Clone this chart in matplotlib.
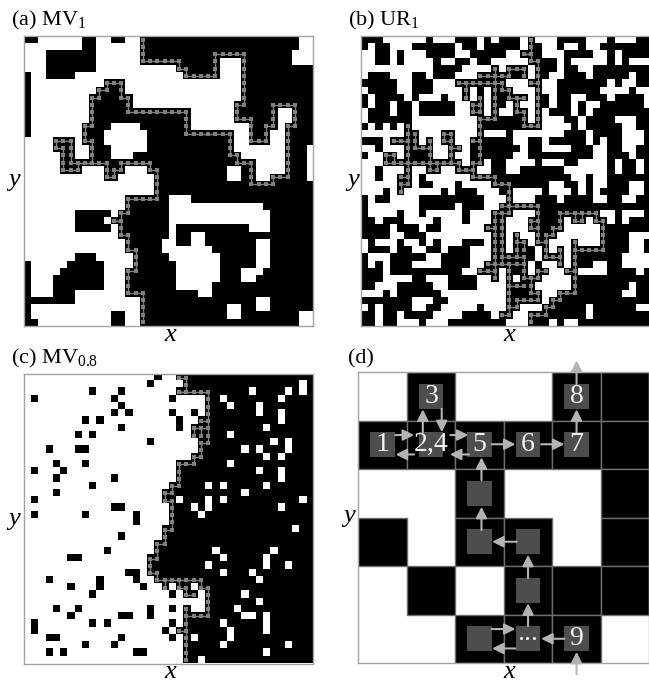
import numpy as np
import matplotlib
matplotlib.use("Agg")
import matplotlib.pyplot as plt
from matplotlib.patches import Rectangle

plt.rcParams['font.family'] = ['Liberation Serif', 'DejaVu Serif']
plt.rcParams['mathtext.fontset'] = 'custom'
plt.rcParams['mathtext.rm'] = 'Liberation Serif'
plt.rcParams['mathtext.it'] = 'Liberation Serif:italic'

N = 40

# black runs per row (first col, last col)
runs_a = [
    [(0,1),(8,9),(12,13),(16,37)], [(8,9),(16,37)], [(3,9),(16,36)], [(3,9),(16,26),(30,36)],
    [(3,9),(21,26),(30,39)], [(0,0),(3,6),(22,26),(30,39)], [(0,0),(11,13),(30,39)], [(0,0),(10,13),(30,39)],
    [(0,0),(9,14),(30,39)], [(0,0),(9,14),(29,39)], [(0,0),(9,22),(29,34),(37,39)], [(0,0),(9,22),(29,34),(37,39)],
    [(0,0),(8,11),(16,22),(31,34),(36,39)], [(0,0),(8,10),(17,28),(31,33),(36,39)], [(4,6),(8,10),(17,28),(31,33),(36,39)],
    [(4,6),(9,11),(17,28),(36,38)], [(5,6),(9,11),(15,29),(36,38)], [(5,31),(36,38)], [(5,7),(11,13),(17,27),(30,31),(36,38)],
    [(11,12),(18,27),(30,31),(34,38)], [(18,39)], [(18,39)], [(14,19),(23,39)], [(14,19),(33,39)],
    [(7,11),(13,19),(34,39)], [(7,10),(12,19),(34,39)], [(7,11),(13,19),(21,30),(34,39)], [(13,19),(21,22),(25,39)],
    [(14,18),(21,22),(25,31),(34,39)], [(14,18),(26,31),(34,39)], [(7,9),(15,19),(27,31),(34,39)],
    [(0,0),(6,10),(15,20),(27,31),(34,39)], [(0,0),(5,10),(14,20),(27,29),(33,39)], [(0,0),(4,10),(14,20),(27,29),(32,39)],
    [(0,0),(4,10),(14,20),(26,39)], [(0,0),(4,6),(14,23),(26,39)], [(0,6),(16,31),(34,39)], [(0,0),(16,27),(30,31),(34,39)],
    [(0,0),(12,13),(16,27),(30,37)], [(0,1),(12,13),(16,37)],
]
runs_b = [
    [(0,2),(9,9),(13,15),(17,17),(19,21),(23,23),(27,30),(34,34),(38,39)],
    [(0,0),(2,3),(7,12),(14,15),(17,21),(23,24),(27,27),(30,30),(33,39)],
    [(2,3),(5,5),(9,12),(15,19),(22,24),(28,31),(34,34),(36,39)],
    [(2,3),(5,5),(10,10),(13,14),(16,17),(23,26),(28,28),(34,34),(36,36)],
    [(10,13),(18,18),(20,22),(24,26),(28,29),(32,39)],
    [(1,3),(7,8),(10,12),(16,21),(22,22),(24,25),(28,30),(32,36),(38,39)],
    [(0,4),(7,9),(13,19),(23,24),(27,33),(35,35),(38,39)],
    [(1,4),(7,9),(14,14),(16,16),(18,20),(24,24),(27,32),(37,37)],
    [(0,0),(2,5),(7,7),(11,11),(14,14),(16,16),(18,22),(24,25),(27,28),(31,33),(35,38)],
    [(0,0),(2,3),(5,6),(8,12),(15,16),(18,19),(21,21),(24,25),(27,28),(30,30),(33,38)],
    [(1,3),(5,6),(8,12),(15,16),(18,18),(21,22),(24,24),(26,28),(30,30),(32,39)],
    [(1,6),(16,22),(24,24),(28,29),(31,34),(38,39)],
    [(0,0),(2,2),(4,4),(6,6),(16,24),(29,29),(31,35),(38,39)],
    [(6,7),(11,12),(16,16),(20,20),(28,30),(32,35),(39,39)],
    [(0,2),(4,7),(9,9),(11,12),(15,20),(23,24),(26,30),(32,32),(34,35),(39,39)],
    [(2,2),(6,9),(12,13),(15,21),(23,24),(29,31),(34,35),(38,39)],
    [(0,0),(3,4),(6,9),(12,12),(15,20),(23,30),(31,31),(34,36),(38,39)],
    [(3,13),(15,16),(18,19),(24,24),(28,29),(34,34),(36,37),(39,39)],
    [(2,2),(6,6),(9,10),(13,15),(18,19),(22,27),(34,34),(36,37),(39,39)],
    [(2,2),(5,6),(8,8),(15,28),(31,31),(34,39)],
    [(5,6),(8,9),(13,13),(18,25),(28,29),(31,31),(34,36),(39,39)],
    [(3,3),(5,5),(11,11),(13,15),(19,20),(25,25),(29,29),(31,31),(33,36),(39,39)],
    [(0,0),(2,3),(8,16),(20,20),(24,26),(28,31),(34,35),(38,39)],
    [(0,0),(8,12),(14,16),(19,39)],
    [(0,0),(5,5),(8,8),(14,14),(18,20),(24,32),(35,35),(39,39)],
    [(0,1),(3,5),(10,10),(14,14),(18,19),(23,27),(29,30),(32,33),(35,35),(37,39)],
    [(0,3),(5,7),(9,10),(17,19),(23,27),(33,39)],
    [(0,3),(6,8),(18,19),(21,21),(24,26),(33,36)],
    [(1,1),(5,5),(8,8),(10,10),(14,16),(18,19),(21,22),(24,25),(29,29),(33,36),(39,39)],
    [(1,3),(5,6),(9,10),(12,14),(18,19),(21,23),(25,25),(27,27),(29,36),(39,39)],
    [(0,0),(4,8),(11,14),(18,23),(25,27),(29,35)],
    [(0,0),(2,2),(4,6),(11,14),(17,22),(24,24),(27,27),(29,31),(34,35)],
    [(0,2),(4,13),(16,18),(21,21),(24,25),(28,29),(34,37),(39,39)],
    [(0,2),(7,8),(12,15),(18,18),(20,20),(22,24),(29,39)],
    [(0,1),(5,9),(12,15),(20,23),(29,36),(38,39)],
    [(3,3),(5,10),(20,24),(27,35),(38,39)],
    [(0,6),(10,11),(20,24),(26,39)],
    [(1,1),(3,6),(9,10),(16,16),(20,21),(25,30),(32,37)],
    [(0,1),(3,4),(6,9),(14,17),(19,20),(23,30),(32,39)],
    [(0,1),(3,4),(8,8),(12,19),(23,25),(27,27),(30,39)],
]
# panel (c): first black column of each row, plus the specks either side of it
edge_c = [21,22,21,25,25,25,24,23,23,24,24,23,21,21,21,20,19,19,20,20,
          20,19,19,18,18,17,17,17,18,19,22,25,22,22,22,21,22,22,22,22]
specks_black_c = [
    (18,0),(17,1),(9,2),(13,2),(1,3),(12,3),(20,3),(13,4),(12,5),(14,5),(20,5),(23,5),(8,6),(10,6),(21,6),(21,7),
    (13,7),(7,8),(9,8),(17,9),(3,10),(7,10),(8,10),(4,12),(8,12),(1,13),(5,13),(4,14),(12,14),(9,15),(4,16),(1,17),
    (12,18),(13,18),(1,19),(8,19),(15,19),(15,20),(13,22),(11,24),(6,25),(7,25),(14,27),(15,27),(3,28),(10,28),(15,28),
    (10,29),(6,29),(16,29),(9,30),(20,30),(4,32),(7,32),(17,32),(20,32),(17,33),(6,33),(13,33),(14,33),
    (1,34),(1,35),(9,34),(11,34),(20,34),(19,35),(3,36),(4,36),(13,36),(20,36),(8,37),(12,37),(3,38),(5,38),(15,38),(16,38),
]
specks_white_c = [
    (38,1),(38,2),(31,2),(36,2),(27,3),(35,3),(28,4),(32,4),(32,5),(35,5),(35,6),(33,7),(24,8),(28,8),(34,9),(36,9),(36,10),
    (30,10),(32,10),(33,11),(35,11),(28,12),(32,13),(35,13),(35,14),(25,15),(27,15),(33,15),(30,16),(21,17),(25,17),(25,18),
    (27,17),(38,17),(23,18),(35,18),(24,19),(37,21),(26,24),(34,24),(27,25),(33,25),(33,26),(25,26),(36,26),(27,27),(31,27),
    (32,28),(20,29),(23,29),(24,30),(30,30),(32,31),(29,32),(23,32),(24,32),(30,33),(31,33),(33,33),(33,34),(33,35),(27,34),
    (20,35),(28,35),(28,36),(23,36),(27,37),(36,37),(33,38),(24,39),
]
# panel (d) cells, 1 = black
cells_d = [
    [0,1,0,0,1,1],
    [1,1,1,1,1,1],
    [0,0,1,0,0,1],
    [1,0,1,1,0,1],
    [0,1,0,1,1,1],
    [0,0,1,1,1,0],
]
path_a = [[(16,0),(16,3),(21,3),(21,4),(22,4),(22,5),(26,5),(26,2),(30,2),(30,9),(29,9),(29,11),(31,11),(31,14),(33,14),
           (33,12),(34,12),(34,9),(37,9),(37,12),(36,12),(36,19),(34,19),(34,20),(31,20),(31,17),(29,17),(29,16),(28,16),
           (28,13),(22,13),(22,10),(14,10),(14,8),(13,8),(13,6),(11,6),(11,7),(10,7),(10,8),(9,8),(9,12),(8,12),(8,14),
           (9,14),(9,17),(6,17),(6,14),(4,14),(4,15),(5,15),(5,18),(7,18),(7,17),(11,17),(11,19),(12,19),(12,18),(13,18),
           (13,17),(17,17),(17,18),(18,18),(18,22),(14,22),(14,24),(13,24),(13,25),(12,25),(13,25),(13,27),(14,27),(14,29),
           (15,29),(15,32),(14,32),(14,35),(16,35),(16,39)]]
path_b = [
    [(23,0),(23,2),(22,2),(23,2),(23,3),(24,3),(24,12),(22,12),(22,10),(21,10),(21,8),(22,8),(20,8),(20,7),(19,7),(19,6),(13,6)],
    [(23,6),(24,6)], [(16,5),(19,5),(20,5),(20,4),(22,4),(22,5)],
    [(18,4),(18,11),(16,11),(16,17),(15,17),(15,19),(18,19),(18,20),(20,20),(20,24),(18,24),(18,31)],
    [(15,18),(13,18),(13,17),(3,17),(3,16),(4,16),(4,17)],
    [(16,8),(16,10),(15,10),(15,9),(16,9)], [(15,14),(16,14)], [(14,6),(14,8)],
    [(6,12),(6,20),(5,20),(5,21)], [(6,19),(5,19)], [(4,14),(6,14)],
    [(7,13),(7,15),(9,15)], [(9,14),(9,18),(10,18),(10,17)], [(11,13),(12,13),(12,17)], [(11,13),(11,14),(12,14)], [(12,15),(13,15)],
    [(19,23),(24,23),(24,24)], [(19,24),(19,31)], [(17,26),(18,26)], [(17,31),(22,31)],
    [(19,30),(22,30),(22,33),(24,33),(24,32),(25,32)], [(21,27),(21,30)], [(21,28),(22,28),(22,29)],
    [(20,31),(20,38),(19,38)], [(20,34),(22,34)], [(20,37),(21,37),(21,36),(24,36),(24,35),(23,35),(23,33)],
    [(16,32),(18,32),(18,33)], [(18,31),(18,32)],
    [(24,24),(24,28),(25,28)], [(23,25),(24,25)], [(23,25),(23,26),(24,26)],
    [(25,30),(25,27),(26,27),(26,26),(27,26),(27,24),(32,24),(32,25),(33,25),(33,29),(29,29)],
    [(25,30),(27,30)], [(29,24),(29,25),(30,25),(30,24)], [(27,29),(27,31)],
    [(29,28),(29,35),(27,35),(27,36),(26,36),(26,37),(25,37),(25,38),(23,38),(23,39)], [(28,32),(29,32)],
]
path_c = [
    [(21,0),(22,0),(22,2),(21,2),(25,2),(25,9),(24,9),(24,11),(23,11),(23,12),(21,12),(21,15),(20,15),(20,16),(19,16),(19,17),
     (20,17),(20,21),(19,21),(19,23),(18,23),(18,25),(17,25),(17,27),(18,27),(18,28),(24,28),(24,29),(25,29),(25,33),(22,33),(22,39)],
    [(24,6),(25,6)], [(23,7),(25,7)], [(24,7),(24,8)], [(23,7),(23,8)],
    [(19,28),(19,29)], [(21,28),(21,29),(22,29),(22,30),(23,30)], [(22,32),(22,33)], [(21,35),(22,35)],
]
# panel (d): grey squares (col, row), their labels, arrows as tail/head in cell units
squares_d = [(0,1),(1,1),(1,0),(2,1),(3,1),(4,1),(4,0),(2,2),(2,3),(3,3),(3,4),(2,5),(3,5),(4,5)]
labels_d = ["1","2,4","3","5","6","7","8","","","","","","...","9"]
arrows_d = [
    ((0.76,1.30),(1.15,1.30)), ((1.15,1.70),(0.77,1.70)), ((1.33,1.24),(1.33,0.77)), ((1.72,0.76),(1.72,1.24)),
    ((1.90,1.30),(2.27,1.30)), ((2.28,1.70),(1.89,1.70)), ((2.54,2.23),(2.54,1.76)), ((2.54,3.26),(2.54,2.78)),
    ((3.27,3.50),(2.76,3.50)), ((3.50,4.25),(3.50,3.77)), ((3.50,5.24),(3.50,4.77)), ((4.25,5.50),(3.77,5.50)),
    ((2.75,5.30),(3.24,5.30)), ((3.24,5.70),(2.76,5.70)), ((4.50,1.24),(4.50,0.77)), ((2.75,1.49),(3.24,1.49)),
    ((3.77,1.49),(4.25,1.49)), ((4.50,0.25),(4.50,-0.24)), ((4.50,6.23),(4.50,5.77)),
]

W, H = 649, 681
GREY = '#a3a3a3'
PATH = '#808080'


def grid_from_runs(rows):
    g = np.zeros((N, N))
    for r, row in enumerate(rows):
        for a, b in row:
            g[r, a:b+1] = 1
    return g


def grid_c():
    g = np.zeros((N, N))
    for r, e in enumerate(edge_c):
        g[r, e:] = 1
    for c, r in specks_black_c:
        g[r, c] = 1
    for c, r in specks_white_c:
        g[r, c] = 0
    return g


def panel(left, top, size):
    ax = fig.add_axes([left/W, 1-(top+size)/H, size/W, size/H])
    ax.set_xticks([])
    ax.set_yticks([])
    for s in ax.spines.values():
        s.set_color(GREY)
        s.set_linewidth(1.0)
    return ax


def draw_grid(ax, g, paths):
    traces = []
    for p in paths:
        cols, rows = [p[0][0]], [p[0][1]]
        for (c0, r0), (c1, r1) in zip(p[:-1], p[1:]):
            steps = max(abs(c1-c0), abs(r1-r0))
            for i in range(1, steps+1):
                cols.append(c0+(c1-c0)*i//steps)
                rows.append(r0+(r1-r0)*i//steps)
        # the walk only ever runs over black cells
        g[rows, cols] = 1
        traces.append((cols, rows))
    ax.imshow(g, cmap='gray_r', vmin=0, vmax=1, extent=(0, N, N, 0), interpolation='nearest', aspect='auto')
    for cols, rows in traces:
        ax.plot(np.array(cols)+0.5, np.array(rows)+0.5, color=PATH, lw=1.0, marker='s', ms=3.2, mew=0,
                solid_joinstyle='miter')
    ax.set_xlim(0, N)
    ax.set_ylim(N, 0)


fig = plt.figure(figsize=(W/100, H/100), dpi=100)

ax_a = panel(23.5, 36, 289.5)
draw_grid(ax_a, grid_from_runs(runs_a), path_a)
ax_b = panel(361, 36, 289.5)
draw_grid(ax_b, grid_from_runs(runs_b), path_b)
ax_c = panel(23.5, 374, 289.5)
draw_grid(ax_c, grid_c(), path_c)

ax_d = panel(358.3, 372, 291)
ax_d.set_xlim(0, 6)
ax_d.set_ylim(6, 0)
for r, row in enumerate(cells_d):
    for c, v in enumerate(row):
        if v:
            ax_d.add_patch(Rectangle((c, r), 1, 1, fc='black', ec='#6e6e6e', lw=1.0))
for (c, r), lab in zip(squares_d, labels_d):
    ax_d.add_patch(Rectangle((c+0.245, r+0.245), 0.51, 0.51, fc='#4d4d4d', ec='none', zorder=3))
    if lab:
        yoff = 0.5 if lab != "..." else 0.4
        ax_d.text(c+0.5, r+yoff, lab, color='#f2f2f2', fontsize=20, ha='center', va='center', zorder=5)
for tail, head in arrows_d:
    ax_d.annotate("", xy=head, xytext=tail, annotation_clip=False, zorder=4,
                  arrowprops=dict(arrowstyle='-|>,head_width=0.3,head_length=0.6', color='#b4b4b4',
                                  lw=1.5, mutation_scale=11, shrinkA=0, shrinkB=0))

titles = [("(a) MV$_{\\mathrm{1}}$", 11, 25), ("(b) UR$_{\\mathrm{1}}$", 348, 25),
          ("(c) MV$_{\\mathrm{0.8}}$", 11, 363), ("(d)", 348, 363)]
for t, x, y in titles:
    fig.text(x/W, 1-y/H, t, fontsize=16, ha='left', va='baseline', color='black')

for x, y in [(170, 341), (509, 341), (170, 678), (509, 678)]:
    fig.text(x/W, 1-y/H, "x", fontsize=19, style='italic', ha='center', va='baseline')
for x, y in [(14, 186), (353, 186), (14, 525), (349, 522)]:
    fig.text(x/W, 1-y/H, "y", fontsize=19, style='italic', ha='center', va='baseline')

fig.savefig("out.png", dpi=100)
